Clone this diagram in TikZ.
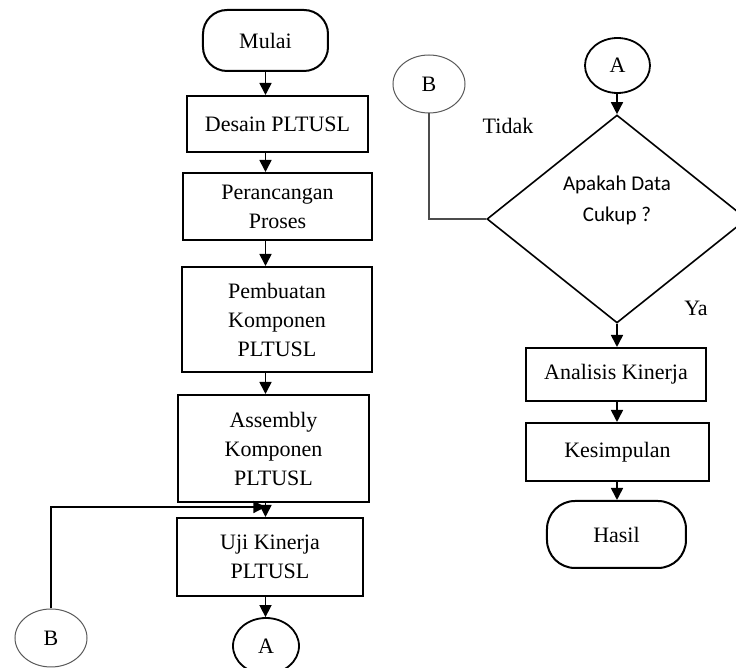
\documentclass[tikz,border=0pt]{standalone}
\usepackage{fontspec}
\setmainfont{Liberation Serif}
\newfontfamily\calibrifont{Carlito}
\usetikzlibrary{arrows.meta, positioning, shapes.geometric}
\tikzset{
    process/.style = {
      rectangle, draw=black, line width=1pt, inner sep=0, align=center,
      font=\fontsize{11}{14.5}\selectfont,
    },
    terminal/.style = {
      process, rounded corners=12pt,
    },
    connector/.style = {
      ellipse, draw=black, line width=0.9pt, inner sep=0,
      font=\fontsize{11}{14.5}\selectfont,
    },
    offpage/.style = {
      connector, draw=black!65, line width=0.5pt,
    },
    decision/.style = {
      diamond, draw=black, line width=0.8pt, inner sep=0,
    },
    flow/.style = {
      line width=0.8pt, arrows={-Triangle[width=6pt, length=6pt]},
    },
    back/.style = {
      line width=0.6pt, draw=black!70,
    },
    answer/.style = {
      font=\fontsize{11}{14.5}\selectfont, inner sep=0,
    },
}

\begin{document}
\begin{tikzpicture}[x=0.5pt, y=-0.5pt]
    \useasboundingbox (0,0) rectangle (736,668);

    %% Left column: from start to the performance test
    \node [terminal, minimum width=62.5pt, minimum height=30.5pt] (mulai) at (265.5,40.5) {Mulai};
    \node [process, minimum width=90.5pt, minimum height=28pt] (desain) at (277.5,124) {Desain PLTUSL};
    \node [process, minimum width=94.5pt, minimum height=33.5pt] (rancang) at (277.5,206.5) {Perancangan\\Proses};
    \node [process, minimum width=95pt, minimum height=52.5pt] (buat) at (277,319.5) {Pembuatan\\Komponen\\PLTUSL};
    \node [process, minimum width=95.5pt, minimum height=53.5pt] (rakit) at (273.5,448.5) {Assembly\\Komponen\\PLTUSL};
    \node [process, minimum width=93pt, minimum height=39pt] (uji) at (270,557) {Uji Kinerja\\PLTUSL};
    \node [connector, minimum width=33pt, minimum height=28pt] (akeluar) at (266,646) {A};
    \node [offpage, minimum width=36pt, minimum height=29pt] (bmasuk) at (51,638) {B};

    %% Right column: decision and results
    \node [connector, minimum width=32.5pt, minimum height=27.5pt] (amasuk) at (617.5,65.5) {A};
    \node [offpage, minimum width=36pt, minimum height=29pt] (bkeluar) at (429,84) {B};
    \node [decision, minimum width=130pt, minimum height=104pt] (cek) at (617,219) {};
    \node [align=center, inner sep=0, font=\calibrifont\fontsize{10.5}{15.5}\selectfont] (cektext) at (617,200) {Apakah Data\\Cukup ?};
    \node [process, minimum width=90pt, minimum height=26.5pt] (analisis) at (616,374.5) {Analisis Kinerja};
    \node [process, minimum width=91.5pt, minimum height=29pt] (simpul) at (617.5,452) {Kesimpulan};
    \node [terminal, rounded corners=14pt, minimum width=69.5pt, minimum height=33.5pt] (hasil) at (616.5,534.5) {Hasil};
    \node [answer] (tidak) at (508,126) {Tidak};
    \node [answer] (ya) at (696,308) {Ya};

    %% Main flow of the left column
    \foreach \a/\b in {mulai/desain, desain/rancang, rancang/buat, buat/rakit, rakit/uji, uji/akeluar}{%
      \draw [flow] (\a.south -| mulai) -- (\b.north -| mulai);
    }

    %% Main flow of the right column
    \foreach \a/\b in {amasuk/cek, cek/analisis, analisis/simpul, simpul/hasil}{%
      \draw [flow] (\a.south -| cek) -- (\b.north -| cek);
    }

    %% Loop back when the data is not enough
    \draw [back] (cek.west) -| (bkeluar.south);
    \coordinate (gabung) at ([yshift=5pt] uji.north -| mulai);
    \draw [back, draw=black, flow, line width=0.6pt] (bmasuk.north) |- (gabung);
\end{tikzpicture}
\end{document}
